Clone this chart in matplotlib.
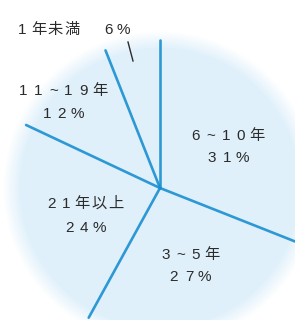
import numpy as np
import matplotlib.pyplot as plt

plt.rcParams['font.family'] = ['Liberation Sans', 'Noto Sans CJK JP', 'DejaVu Sans']

# 勤続年数の内訳 (%)
categories = ['6~10年', '3~5年', '21年以上', '11~19年', '1年未満']
shares = [31, 27, 24, 12, 6]
share_labels = ['31%', '27%', '24%', '12%', '6%']

W, H = 295, 320
cx, cy, R = 160, 320 - 188, 148
line_color = '#1a8fd0'
text_color = '#2b2b2b'

fig = plt.figure(figsize=(W / 100, H / 100), dpi=100)
ax = fig.add_axes([0, 0, 1, 1])

# 淡い水色の円（ぼかした縁）
yy, xx = np.mgrid[0:H, 0:W]
rr = np.hypot(xx + 0.5 - cx, yy + 0.5 - cy)
alpha = np.clip((157 - rr) / 18, 0, 1)
img = np.zeros((H, W, 4))
img[..., 0] = 0.875
img[..., 1] = 0.945
img[..., 2] = 0.985
img[..., 3] = alpha
ax.imshow(img, extent=(0, W, 0, H), origin='lower', zorder=0)

# 扇形は透明、境界線だけを描く
wedges, _ = ax.pie(shares, startangle=90, counterclock=False, center=(cx, cy),
                   radius=R, wedgeprops=dict(fill=False, linewidth=0), frame=True)
ax.set_xlim(0, W)
ax.set_ylim(0, H)
ax.set_aspect('equal')
ax.axis('off')
for w in wedges:
    t = np.radians(w.theta2)
    ax.plot([cx, cx + R * np.cos(t)], [cy, cy + R * np.sin(t)],
            color=line_color, lw=1.9, alpha=0.9, solid_capstyle='round', zorder=3)


def spaced(x, y, s, size=11):
    # 文字間を広げて中央揃えで描く
    adv = [17 if ord(c) > 255 else 15 for c in s]
    total = sum(adv)
    pos = x - total / 2
    for c, a in zip(s, adv):
        ax.text(pos + a / 2, H - y, c, ha='center', va='center',
                fontsize=size, color=text_color, zorder=4)
        pos += a


label_pos = {
    '6~10年': (227, 136, 158),
    '3~5年': (189, 255, 277),
    '21年以上': (84, 204, 228),
    '11~19年': (62, 91, 114),
}
for cat, lab in zip(categories, share_labels):
    if cat in label_pos:
        x, y1, y2 = label_pos[cat]
        spaced(x, y1, cat)
        spaced(x, y2, lab)

spaced(48, 30, categories[4])
spaced(116, 30, share_labels[4])
ax.plot([128, 133], [H - 42, H - 61], color=text_color, lw=1.0, zorder=4)

fig.savefig('out.png', dpi=100)
